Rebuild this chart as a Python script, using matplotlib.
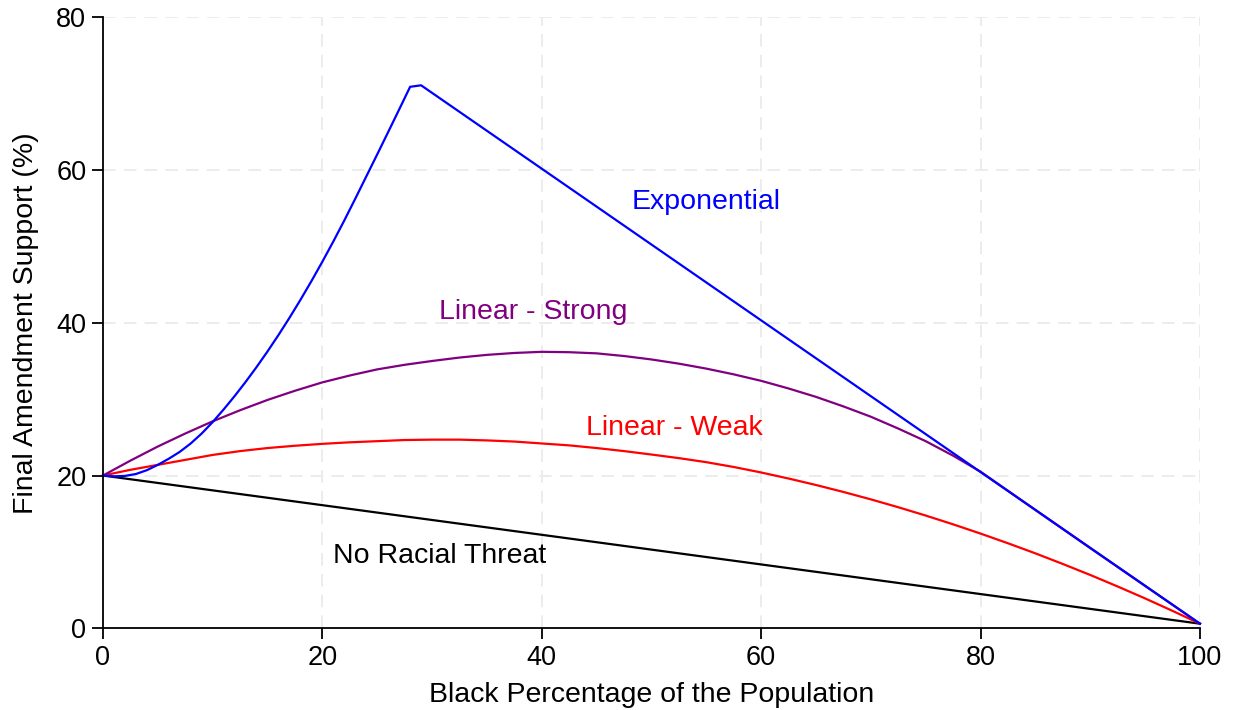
import matplotlib
matplotlib.use("Agg")
import matplotlib.pyplot as plt

plt.rcParams['font.family'] = ['Liberation Sans', 'DejaVu Sans']

# Black share of the population (%) against predicted final amendment support (%)
no_threat_x = [0, 100]
no_threat_y = [20.0, 0.6]

weak_x = [0, 2.5, 5, 7.5, 10, 12.5, 15, 17.5, 20, 22.5, 25, 27.5, 30, 32.5, 35, 37.5,
          40, 42.5, 45, 47.5, 50, 52.5, 55, 57.5, 60, 62.5, 65, 67.5, 70, 72.5, 75,
          77.5, 80, 82.5, 85, 87.5, 90, 92.5, 95, 97.5, 100]
weak_y = [20.0, 20.75, 21.4, 22.05, 22.7, 23.2, 23.6, 23.9, 24.15, 24.35, 24.5, 24.65,
          24.7, 24.7, 24.6, 24.45, 24.2, 23.95, 23.6, 23.2, 22.75, 22.28, 21.75, 21.12,
          20.4, 19.61, 18.76, 17.85, 16.88, 15.85, 14.76, 13.61, 12.4, 11.13, 9.81,
          8.42, 6.98, 5.47, 3.91, 2.28, 0.6]

strong_x = [0, 2.5, 5, 7.5, 10, 12.5, 15, 17.5, 20, 22.5, 25, 27.5, 30, 32.5, 35, 37.5,
            40, 42.5, 45, 47.5, 50, 52.5, 55, 57.5, 60, 62.5, 65, 67.5, 70, 72.5, 75,
            77.5, 80, 90, 100]
strong_y = [20.0, 21.95, 23.8, 25.5, 27.1, 28.55, 29.9, 31.1, 32.2, 33.1, 33.9, 34.5,
            35.0, 35.45, 35.8, 36.05, 36.2, 36.15, 36.0, 35.65, 35.2, 34.65, 34.0,
            33.25, 32.4, 31.4, 30.3, 29.05, 27.7, 26.15, 24.5, 22.6, 20.5, 10.5, 0.6]

expo_x = [0, 1, 2, 3, 4, 5, 6, 7, 8, 9, 10, 11, 12, 13, 14, 15, 16, 17, 18, 19, 20,
          21, 22, 23, 24, 25, 26, 27, 28, 29, 100]
expo_y = [20.0, 19.9, 19.95, 20.2, 20.7, 21.4, 22.2, 23.1, 24.2, 25.5, 27.0, 28.65,
          30.4, 32.25, 34.2, 36.25, 38.4, 40.65, 43.0, 45.45, 48.0, 50.65, 53.4,
          56.25, 59.15, 62.05, 64.98, 67.93, 70.9, 71.1, 0.6]

x_ticks = [0, 20, 40, 60, 80, 100]
y_ticks = [0, 20, 40, 60, 80]

fig = plt.figure(figsize=(12.33, 7.10), dpi=100)
ax = fig.add_axes([0.0835, 0.1151, 0.8897, 0.8605])

ax.set_xlim(0, 100)
ax.set_ylim(0, 80)
ax.set_xticks(x_ticks)
ax.set_yticks(y_ticks)
ax.grid(True, color='#ebebeb', linestyle=(0, (7, 4.5)), linewidth=1.3)
ax.set_axisbelow(True)

for s in ('top', 'right'):
    ax.spines[s].set_visible(False)
for s in ('left', 'bottom'):
    ax.spines[s].set_linewidth(1.3)
    ax.spines[s].set_color('black')
ax.tick_params(direction='out', length=8, width=1.3, labelsize=19.5, pad=4)

lw = 1.6
ax.plot(no_threat_x, no_threat_y, color='black', lw=lw, clip_on=False)
ax.plot(weak_x, weak_y, color='red', lw=lw, clip_on=False)
ax.plot(strong_x, strong_y, color='purple', lw=lw, clip_on=False)
ax.plot(expo_x, expo_y, color='blue', lw=lw, clip_on=False)

fs = 20.5
ax.text(55.0, 55.8, 'Exponential', color='blue', fontsize=fs, ha='center', va='center')
ax.text(39.2, 41.4, 'Linear - Strong', color='purple', fontsize=fs, ha='center', va='center')
ax.text(52.1, 26.2, 'Linear - Weak', color='red', fontsize=fs, ha='center', va='center')
ax.text(30.7, 9.4, 'No Racial Threat', color='black', fontsize=fs, ha='center', va='center')

ax.set_xlabel('Black Percentage of the Population', fontsize=20.5, labelpad=8)
ax.set_ylabel('Final Amendment Support (%)', fontsize=20.5, labelpad=12)

fig.savefig('out.png', dpi=100)
